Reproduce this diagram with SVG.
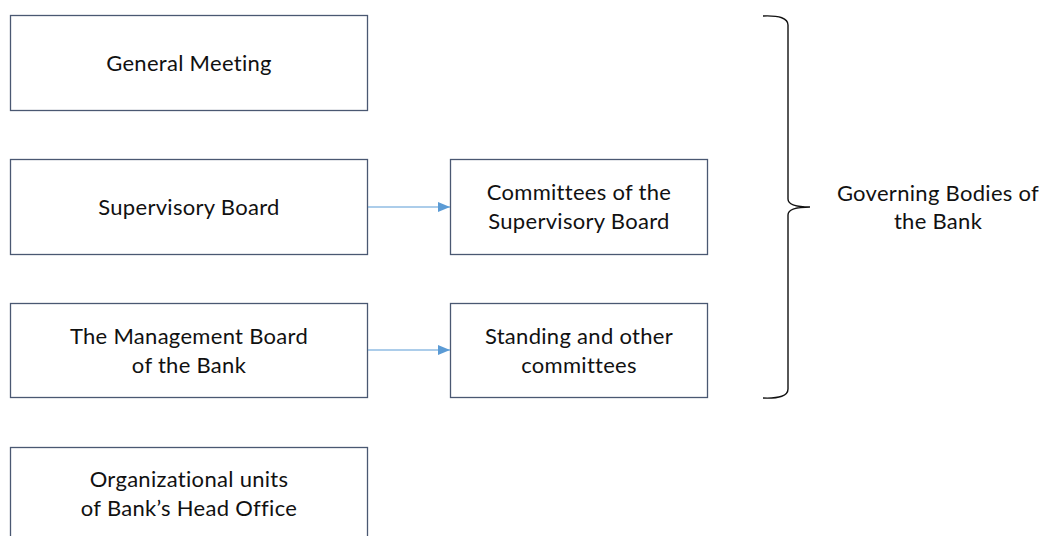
<svg xmlns="http://www.w3.org/2000/svg" width="1046" height="536" viewBox="0 0 1046 536">
<style>
.box{fill:#fff;stroke:#4a5872;stroke-width:1.3}
.t{font-family:Lato,"Noto Sans",sans-serif;font-size:22px;letter-spacing:0.3px;fill:#111;text-anchor:middle}
.c{stroke:#5b9bd5;stroke-width:1.2;fill:none}
</style>
<defs>
<marker id="ah" viewBox="0 0 12 10" refX="12" refY="5" markerWidth="12" markerHeight="10" markerUnits="userSpaceOnUse" orient="auto">
<path d="M0,0 L12,5 L0,10 z" fill="#5b9bd5"/>
</marker>
</defs>
<rect width="1046" height="536" fill="#fff"/>
<g id="general-meeting"><rect class="box" x="10.5" y="15.5" width="357" height="95"/><text class="t" x="189" y="71">General Meeting</text></g>
<g id="supervisory-board"><rect class="box" x="10.5" y="159.5" width="357" height="95"/><text class="t" x="189" y="215">Supervisory Board</text></g>
<g id="committees-sb"><rect class="box" x="450.5" y="159.5" width="257" height="95"/><text class="t" x="579" y="200">Committees of the</text><text class="t" x="579" y="229">Supervisory Board</text></g>
<g id="management-board"><rect class="box" x="10.5" y="303.5" width="357" height="94"/><text class="t" x="189" y="344">The Management Board</text><text class="t" x="189" y="373">of the Bank</text></g>
<g id="standing-committees"><rect class="box" x="450.5" y="303.5" width="257" height="94"/><text class="t" x="579" y="344">Standing and other</text><text class="t" x="579" y="373">committees</text></g>
<g id="org-units"><rect class="box" x="10.5" y="447.5" width="357" height="100"/><text class="t" x="189" y="487">Organizational units</text><text class="t" x="189" y="516">of Bank’s Head Office</text></g>
<g id="governing-bodies"><path d="M763,16 Q788,15 788,25 L788,199 Q788,207 810,207 Q788,207 788,215 L788,389 Q788,399 763,398" fill="none" stroke="#111" stroke-width="1.4"/><text class="t" x="938" y="201">Governing Bodies of</text><text class="t" x="938" y="229">the Bank</text></g>
<g id="connectors">
<line class="c" x1="368" y1="207" x2="450" y2="207" marker-end="url(#ah)"/>
<line class="c" x1="368" y1="350" x2="450" y2="350" marker-end="url(#ah)"/>
</g>
</svg>
